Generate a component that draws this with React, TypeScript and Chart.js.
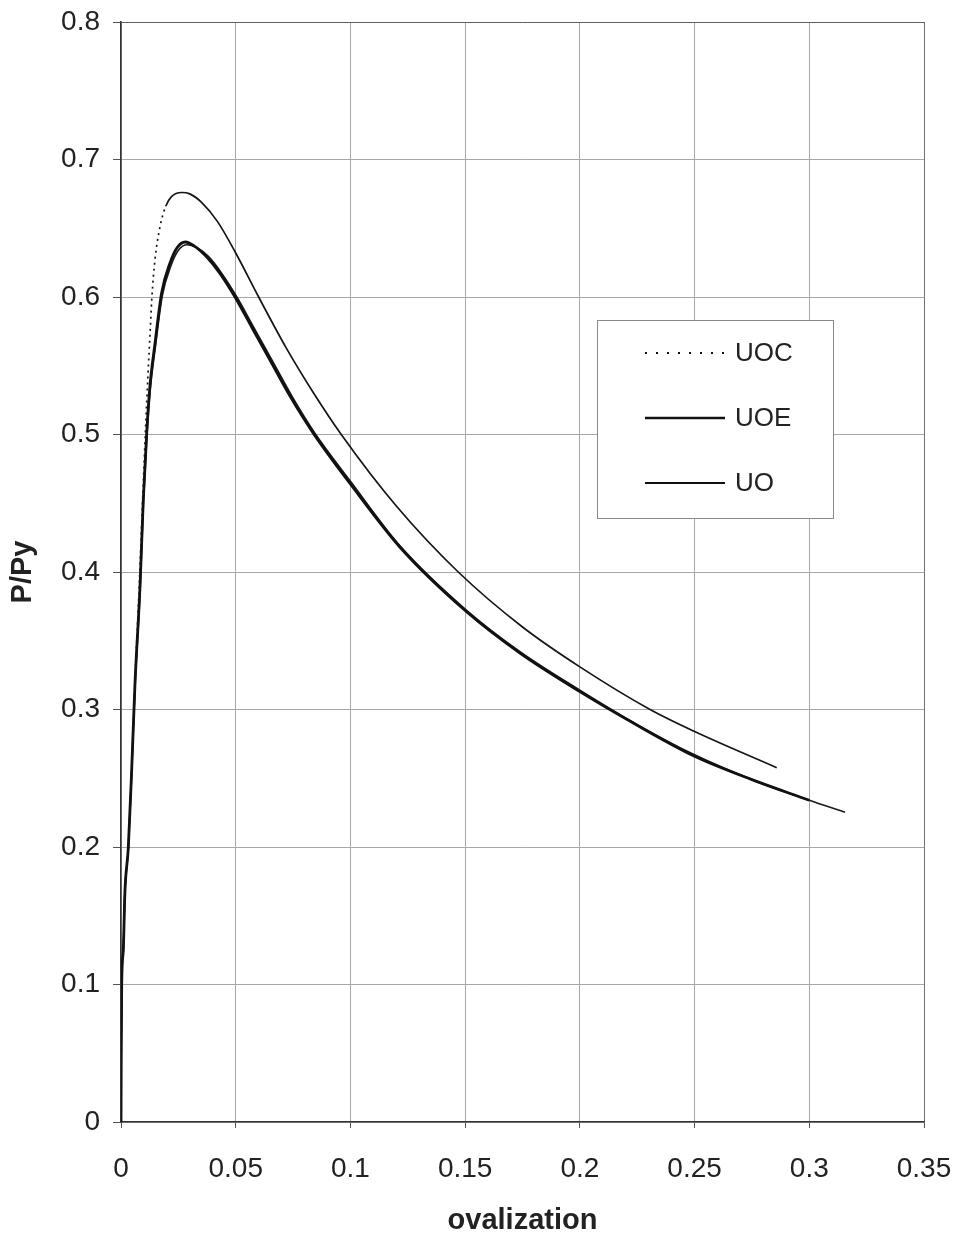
import React, { useEffect, useRef } from "react";
import { Chart, registerables } from "chart.js";

Chart.register(...registerables);

// ---- axis ticks ----
const xTickValues = [0, 0.05, 0.1, 0.15, 0.2, 0.25, 0.3, 0.35];
const xTickLabels = ["0", "0.05", "0.1", "0.15", "0.2", "0.25", "0.3", "0.35"];
const yTickValues = [0, 0.1, 0.2, 0.3, 0.4, 0.5, 0.6, 0.7, 0.8];
const yTickLabels = ["0", "0.1", "0.2", "0.3", "0.4", "0.5", "0.6", "0.7", "0.8"];

const xTitle = "ovalization";
const yTitle = "P/Py";
const seriesNames = ["UOC", "UOE", "UO"];

// ---- series (ovalization, P/Py) ----
const uocX = [0, 0.0001, 0.0003, 0.001, 0.0017, 0.0032, 0.0047, 0.0061, 0.008, 0.0095, 0.0108, 0.0118, 0.0126, 0.0134, 0.0148, 0.017, 0.0195, 0.022, 0.0265, 0.03, 0.035, 0.042, 0.05, 0.06, 0.072, 0.084, 0.096, 0.12, 0.147, 0.175, 0.2, 0.2306, 0.25, 0.2858];
const uocY = [0, 0.05, 0.1, 0.125, 0.167, 0.2, 0.258, 0.32, 0.392, 0.455, 0.508, 0.545, 0.571, 0.598, 0.627, 0.651, 0.666, 0.673, 0.676, 0.675, 0.669, 0.655, 0.632, 0.6, 0.563, 0.53, 0.5, 0.448, 0.4, 0.36, 0.331, 0.3, 0.284, 0.2577];

const uoeX = [0, 0.0001, 0.0003, 0.001, 0.0017, 0.0032, 0.0047, 0.0061, 0.0083, 0.0097, 0.0112, 0.0126, 0.0148, 0.0177, 0.0214, 0.0245, 0.028, 0.032, 0.0374, 0.0432, 0.0497, 0.057, 0.065, 0.074, 0.0838, 0.1, 0.1216, 0.15, 0.1739, 0.2, 0.225, 0.25, 0.275, 0.3];
const uoeY = [0, 0.05, 0.1, 0.125, 0.167, 0.2, 0.258, 0.319, 0.39, 0.452, 0.501, 0.535, 0.566, 0.603, 0.625, 0.636, 0.64, 0.637, 0.629, 0.617, 0.6, 0.578, 0.554, 0.527, 0.501, 0.464, 0.418, 0.372, 0.341, 0.313, 0.2885, 0.266, 0.249, 0.234];

const uoX = [0, 0.0001, 0.0003, 0.001, 0.0017, 0.0032, 0.0047, 0.0061, 0.0083, 0.0097, 0.0112, 0.0127, 0.015, 0.018, 0.0218, 0.025, 0.0288, 0.033, 0.0384, 0.044, 0.0505, 0.0578, 0.0658, 0.0748, 0.0845, 0.1, 0.1216, 0.15, 0.1739, 0.2, 0.225, 0.25, 0.275, 0.3, 0.3156];
const uoY = [0, 0.05, 0.1, 0.125, 0.166, 0.199, 0.256, 0.316, 0.386, 0.448, 0.497, 0.532, 0.564, 0.601, 0.623, 0.634, 0.638, 0.636, 0.629, 0.617, 0.6, 0.578, 0.554, 0.527, 0.501, 0.466, 0.419, 0.373, 0.342, 0.314, 0.289, 0.267, 0.249, 0.234, 0.2253];

const FONT = "'Liberation Sans', Arial, sans-serif";

const zip = (xs: number[], ys: number[]) => xs.map((x, i) => ({ x, y: ys[i] }));

const legendStyles = [
  { dash: [2, 9], width: 2 },
  { dash: [] as number[], width: 2.6 },
  { dash: [] as number[], width: 1.8 },
];

const boxLegend = {
  id: "boxLegend",
  afterDatasetsDraw(chart: any) {
    const ctx = chart.ctx as CanvasRenderingContext2D;
    const left = 597, top = 320, w = 236, h = 198;
    ctx.save();
    ctx.fillStyle = "#ffffff";
    ctx.fillRect(left, top, w, h);
    ctx.strokeStyle = "#8a8a8a";
    ctx.lineWidth = 1;
    ctx.strokeRect(left + 0.5, top + 0.5, w, h);
    const rows = [353, 418, 483];
    seriesNames.forEach((name, i) => {
      const st = legendStyles[i];
      ctx.beginPath();
      ctx.setLineDash(st.dash);
      ctx.lineWidth = st.width;
      ctx.strokeStyle = "#111";
      ctx.moveTo(645, rows[i]);
      ctx.lineTo(725, rows[i]);
      ctx.stroke();
      ctx.setLineDash([]);
      ctx.fillStyle = "#222";
      ctx.font = `26px ${FONT}`;
      ctx.textAlign = "left";
      ctx.textBaseline = "middle";
      ctx.fillText(name, 735, rows[i] + 1);
    });
    ctx.restore();
  },
};

export default function App() {
  const ref = useRef<HTMLCanvasElement | null>(null);
  useEffect(() => {
    if (!ref.current) return;
    const chart = new Chart(ref.current, {
      type: "line",
      data: {
        datasets: [
          {
            label: seriesNames[0],
            data: zip(uocX, uocY),
            borderColor: "#151515",
            borderWidth: 1.7,
            pointRadius: 0,
            cubicInterpolationMode: "monotone",
            segment: {
              borderDash: (c: any) => (c.p1.parsed.x <= 0.0196 ? [2, 4] : undefined),
            },
          },
          {
            label: seriesNames[1],
            data: zip(uoeX, uoeY),
            borderColor: "#111",
            borderWidth: 2.8,
            pointRadius: 0,
            cubicInterpolationMode: "monotone",
          },
          {
            label: seriesNames[2],
            data: zip(uoX, uoY),
            borderColor: "#1a1a1a",
            borderWidth: 1.7,
            pointRadius: 0,
            cubicInterpolationMode: "monotone",
          },
        ],
      },
      options: {
        responsive: false,
        animation: false,
        layout: { padding: { top: 22, right: 34, bottom: 0, left: 0 } },
        plugins: { legend: { display: false }, tooltip: { enabled: false } },
        scales: {
          x: {
            type: "linear",
            min: 0,
            max: 0.35,
            afterBuildTicks: (axis: any) => {
              axis.ticks = xTickValues.map((v) => ({ value: v }));
            },
            afterFit: (s: any) => {
              s.height = 117;
              s.paddingLeft = 0;
              s.paddingRight = 0;
            },
            ticks: {
              callback: (_v: any, i: number) => xTickLabels[i],
              font: { family: FONT, size: 28 },
              color: "#222",
              padding: 24,
              maxRotation: 0,
            },
            grid: {
              color: (c: any) => (c.tick && c.tick.value === 0.35 ? "#707070" : "#a6a6ac"),
              lineWidth: 1,
              tickLength: 6,
              tickColor: "#555",
            },
            border: { display: true, color: "#333", width: 1.6 },
            title: {
              display: true,
              text: xTitle,
              font: { family: FONT, size: 29, weight: "bold" },
              color: "#222",
              padding: { top: 0, bottom: 1 },
            },
          },
          y: {
            type: "linear",
            min: 0,
            max: 0.8,
            afterBuildTicks: (axis: any) => {
              axis.ticks = yTickValues.map((v) => ({ value: v }));
            },
            afterFit: (s: any) => {
              s.width = 121;
              s.paddingTop = 0;
              s.paddingBottom = 0;
            },
            ticks: {
              callback: (_v: any, i: number) => yTickLabels[i],
              font: { family: FONT, size: 28 },
              color: "#222",
              padding: 13,
            },
            grid: {
              color: (c: any) => (c.tick && c.tick.value === 0.8 ? "#606060" : "#a6a6ac"),
              lineWidth: 1,
              tickLength: 8,
              tickColor: "#555",
            },
            border: { display: true, color: "#333", width: 1.6 },
            title: {
              display: true,
              text: yTitle,
              font: { family: FONT, size: 29, weight: "bold" },
              color: "#222",
              padding: { top: 6, bottom: 0 },
            },
          },
        },
      },
      plugins: [boxLegend],
    } as any);
    return () => chart.destroy();
  }, []);
  return (
    <div style={{ position: "absolute", left: 0, top: 0, width: 958, height: 1239, background: "#fff" }}>
      <canvas ref={ref} width={958} height={1239} style={{ display: "block", width: 958, height: 1239 }} />
    </div>
  );
}
